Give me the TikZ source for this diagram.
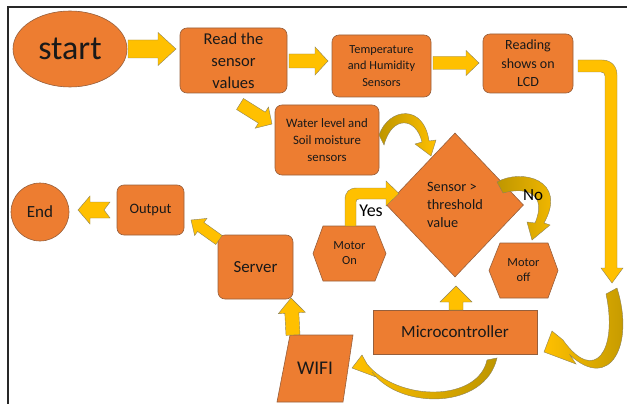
\documentclass[tikz,border=0pt]{standalone}
\usepackage{fontspec}
\setmainfont{Carlito}
\usetikzlibrary{shapes.geometric}
\definecolor{orng}{HTML}{ED7D31}
\definecolor{obord}{RGB}{150,95,60}
\definecolor{yel}{HTML}{FFC000}
\definecolor{ybord}{RGB}{140,130,90}
\definecolor{dkgold}{RGB}{190,150,0}
\definecolor{txt}{RGB}{25,25,25}
\definecolor{framec}{RGB}{40,40,40}
\newcommand{\fsz}[2]{\fontsize{#1}{#2}\selectfont}
% block arrow: tail coord, tip coord, shaft width, head width, head length, notch depth
\newcommand{\barrow}[6]{%
  \path (#1); \pgfgetlastxy{\BAxa}{\BAya}%
  \path (#2); \pgfgetlastxy{\BAxb}{\BAyb}%
  \pgfmathsetmacro\BAang{atan2((\BAyb)-(\BAya),(\BAxb)-(\BAxa))}%
  \pgfmathsetmacro\BAlen{veclen((\BAxb)-(\BAxa),(\BAyb)-(\BAya))}%
  \pgfmathsetmacro\BAs{#3/2}\pgfmathsetmacro\BAh{#4/2}%
  \pgfmathsetmacro\BAk{\BAlen-#5}%
  \begin{scope}[shift={(\BAxa,\BAya)},rotate=\BAang]
    \draw[blockarrow,x=1pt,y=1pt] (0,-\BAs) -- (\BAk,-\BAs) -- (\BAk,-\BAh) -- (\BAlen,0) -- (\BAk,\BAh) -- (\BAk,\BAs) -- (0,\BAs) -- (#6,0) -- cycle;
  \end{scope}}
\begin{document}
\begin{tikzpicture}[x=1pt,y=-1pt,
  box/.style={draw=obord, fill=orng, line width=0.6pt, text=txt, align=center, inner sep=0pt},
  proc/.style={box, rounded corners=7pt},
  lbl/.style={text=txt, align=center, inner sep=0pt},
  shapeline/.style={draw=obord, fill=orng, line width=0.6pt},
  blockarrow/.style={fill=yel, draw=ybord, line width=0.4pt, line join=miter},
  curvarrow/.style={draw=ybord, line width=0.4pt},
]
\useasboundingbox (0,0) rectangle (627,404);
% frame
\draw[framec, line width=1.3pt] (8,404) -- (8,7) -- (627,7);

% nodes
\node[ellipse, box, minimum width=114pt, minimum height=76pt, font=\fsz{34}{40}] (start) at (70,49) {start};
\node[proc, minimum width=107pt, minimum height=65pt, font=\fsz{16.5}{22}] (read) at (233.5,60.5) {Read the\\sensor\\values};
\node[proc, minimum width=99pt, minimum height=62pt, font=\fsz{12.3}{16.3}] (temp) at (381.5,66) {Temperature\\and Humidity\\Sensors};
\node[proc, minimum width=90pt, minimum height=59pt, font=\fsz{14}{18.6}] (lcd) at (528,63.5) {Reading\\shows on\\LCD};
\node[proc, minimum width=104pt, minimum height=70pt, font=\fsz{12.8}{16.7}] (water) at (327,140) {Water level and\\Soil moisture\\sensors};
\node[diamond, box, minimum width=137pt, minimum height=144pt, align=left, font=\fsz{14.3}{18}] (dia) at (455,205) {Sensor >\\threshold\\value};
\node[box, minimum width=164pt, minimum height=44pt, font=\fsz{17}{20}] (micro) at (455,332) {Microcontroller};
\node[proc, minimum width=75pt, minimum height=64pt, font=\fsz{16.9}{20}] (server) at (255.5,267) {Server};
\node[proc, minimum width=67pt, minimum height=50pt, font=\fsz{14.4}{17}] (output) at (150.5,210) {Output};
\node[circle, box, minimum size=58pt, font=\fsz{17}{20}] (end) at (40,212) {End};

% hexagons and parallelogram
\draw[shapeline] (313,253.5) -- (323,226) -- (375,226) -- (386,253.5) -- (375,281) -- (323,281) -- cycle;
\node[lbl, font=\fsz{12.4}{15}] (mon) at (349.5,253.5) {Motor\\On};
\draw[shapeline] (489,270.5) -- (500,243) -- (548,243) -- (558,270.5) -- (548,298) -- (500,298) -- cycle;
\node[lbl, font=\fsz{12.4}{15}] (moff) at (523.5,270.5) {Motor\\off};
\draw[shapeline] (290,335) -- (353,335) -- (343,402) -- (277,402) -- cycle;
\node[lbl, font=\fsz{19.4}{22}] (wifi) at (315,368) {WIFI};

% arrow end points
\coordinate (a1t) at (128,49);  \coordinate (a1h) at (176,49);
\coordinate (a2t) at (289,61);  \coordinate (a2h) at (328,61);
\coordinate (a3t) at (433,63);  \coordinate (a3h) at (479,63);
\coordinate (a4t) at (240,104); \coordinate (a4h) at (272,124);
\coordinate (a5t) at (456,310); \coordinate (a5h) at (456,286);
\coordinate (a6t) at (293,335); \coordinate (a6h) at (291,298);
\coordinate (a7t) at (219,240); \coordinate (a7h) at (191,220);
\coordinate (a8t) at (110,210); \coordinate (a8h) at (78,210);

% straight block arrows
\barrow{a1t}{a1h}{18}{33}{18}{0}
\barrow{a2t}{a2h}{14}{28}{13}{0}
\barrow{a3t}{a3h}{13}{25}{13}{0}
\barrow{a4t}{a4h}{13}{25}{12}{0}
\barrow{a5t}{a5h}{14}{32}{16}{0}
\barrow{a6t}{a6h}{14}{27}{15}{0}
\barrow{a7t}{a7h}{11}{21}{12}{0}
\barrow{a8t}{a8h}{16}{28}{12}{6}

% Yes elbow arrow
\draw[blockarrow] (345,226) -- (345,200) .. controls (345,192) and (349,188) .. (357,188) -- (386,188) -- (386,181) -- (399,193.5) -- (386,206) -- (386,199) -- (359,199) .. controls (357,199) and (356,200) .. (356,202) -- (356,226) -- cycle;
% LCD to microcontroller elbow arrow
\draw[blockarrow] (578,60) -- (602,60) .. controls (611,60) and (617,66) .. (617,75) -- (617,268) -- (623,268) -- (612,283) -- (601,268) -- (605,268) -- (605,76) .. controls (605,73.5) and (603.5,72) .. (601,72) -- (578,72) -- cycle;

% curved arrows
\path[curvarrow, left color=dkgold, right color=yel] (379,135) .. controls (389,107) and (424,104) .. (429,141) -- (436,140) -- (431,156) -- (415,144) -- (422,142) .. controls (416,117) and (392,115) .. (384,145) -- cycle;
\path[curvarrow, left color=dkgold, right color=yel] (497,182) .. controls (522,168) and (568,180) .. (544,223) -- (550,225) -- (532,240) -- (527,222) -- (535,223) .. controls (547,195) and (528,186) .. (503,193) -- cycle;
\path[curvarrow, left color=yel, right color=dkgold] (617,288) .. controls (635,345) and (610,392) .. (570,355) -- (576,364) -- (544,352) -- (552,331) -- (563,340) .. controls (595,385) and (618,350) .. (606,294) -- cycle;
\path[curvarrow, left color=yel, right color=dkgold] (497,358) .. controls (485,410) and (400,410) .. (372,372) -- (376,377) -- (352,368) -- (362,355) -- (367,364) .. controls (398,402) and (478,402) .. (487,360) -- cycle;

% labels
\node[lbl, font=\fsz{18}{20}, text=black] (yes) at (371,211) {Yes};
\node[lbl, font=\fsz{17}{20}, text=black] (no) at (533,195) {No};
\end{tikzpicture}
\end{document}
